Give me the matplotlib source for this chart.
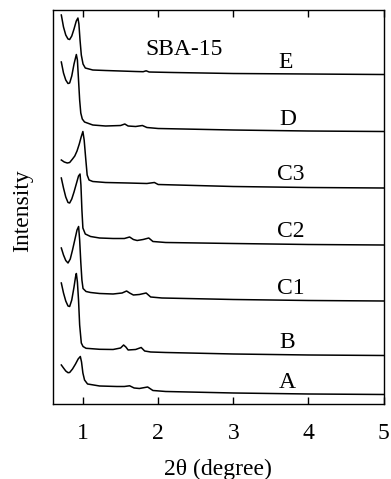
import matplotlib
matplotlib.use("Agg")
import matplotlib.pyplot as plt

plt.rcParams['font.family'] = ['Liberation Serif', 'DejaVu Serif']

# stacked XRD patterns, 2theta (degree) vs intensity (offset, a.u.)
x_E = [0.711, 0.74, 0.77, 0.80, 0.822, 0.85, 0.88, 0.91, 0.932, 0.945, 0.96, 0.977, 1.0, 1.03,
       1.13, 1.3, 1.5, 1.7, 1.8, 1.84, 1.88, 2.2, 3.0, 4.0, 5.0]
y_E = [389, 377, 369, 365, 364.5, 368, 375, 383, 386, 380, 364, 349, 340, 336,
       334, 333.5, 333, 332.5, 332.3, 333.2, 332, 331.5, 330.5, 330, 329.5]

x_D = [0.711, 0.74, 0.77, 0.80, 0.822, 0.85, 0.88, 0.911, 0.925, 0.94, 0.955, 0.97, 0.99, 1.02,
       1.13, 1.3, 1.5, 1.556, 1.6, 1.7, 1.79, 1.85, 2.0, 3.0, 4.0, 5.0]
y_D = [342, 331, 324, 320.5, 321, 328, 340, 349.5, 344, 324, 304, 291, 285, 282,
       279, 278, 278.5, 280, 278, 277.5, 278.5, 276.5, 275.5, 274, 273, 272.5]

x_C3 = [0.711, 0.75, 0.79, 0.822, 0.86, 0.89, 0.92, 0.95, 0.975, 0.998, 1.015, 1.035, 1.055,
        1.08, 1.13, 1.3, 1.6, 1.85, 1.95, 2.0, 2.5, 3.0, 4.0, 5.0]
y_C3 = [244, 242, 241, 241.5, 245, 248, 253, 260, 267, 272.5, 264, 246, 229,
        224, 222.5, 221.5, 221, 220.5, 221.5, 219.5, 218.5, 217.5, 216.5, 216]

x_C2 = [0.711, 0.74, 0.77, 0.80, 0.822, 0.85, 0.88, 0.91, 0.94, 0.96, 0.972, 0.985, 0.998,
        1.03, 1.1, 1.22, 1.4, 1.55, 1.62, 1.67, 1.72, 1.8, 1.875, 1.93, 2.1, 3.0, 4.0, 5.0]
y_C2 = [226, 216, 207, 201.5, 201, 205, 212, 220, 228, 230, 219, 194, 176,
        170, 167.5, 166, 165.5, 165.5, 167, 164.5, 163.5, 164.5, 166, 162.5, 161.5, 160.5, 159.5, 159]

x_C1 = [0.711, 0.74, 0.77, 0.80, 0.83, 0.86, 0.89, 0.92, 0.941, 0.955, 0.97, 0.985, 1.0,
        1.04, 1.1, 1.22, 1.4, 1.52, 1.58, 1.62, 1.67, 1.75, 1.84, 1.9, 2.05, 3.0, 4.0, 5.0]
y_C1 = [156, 149, 143.5, 141, 145, 154, 164, 174, 177.5, 164, 142, 124, 115.5,
        112.5, 111.5, 110.5, 110, 111, 113, 111, 109, 109.5, 111, 107, 106, 104.5, 103.5, 103]

x_B = [0.711, 0.74, 0.77, 0.80, 0.822, 0.85, 0.88, 0.90, 0.911, 0.925, 0.94, 0.955, 0.977, 1.0,
       1.04, 1.22, 1.4, 1.5, 1.54, 1.57, 1.6, 1.7, 1.774, 1.82, 1.9, 2.1, 3.0, 4.0, 5.0]
y_B = [121, 111, 103, 98, 97.5, 104, 117, 127, 130.5, 122, 104, 79, 61, 57.5,
       55.7, 54.7, 54.5, 56, 59, 57, 54, 54.5, 56.5, 53, 52, 51.5, 50, 49, 48.5]

x_A = [0.711, 0.74, 0.77, 0.80, 0.822, 0.86, 0.90, 0.935, 0.964, 0.98, 0.998, 1.02, 1.06,
       1.22, 1.45, 1.55, 1.62, 1.68, 1.75, 1.86, 1.93, 2.1, 3.0, 4.0, 5.0]
y_A = [39, 36, 33, 31.3, 31.5, 35, 40, 45, 47.5, 42, 31, 24, 20,
       18, 17.5, 17.5, 18.2, 16, 15.5, 17, 13.5, 12.5, 11, 10, 9.5]

curves = [(x_E, y_E), (x_D, y_D), (x_C3, y_C3), (x_C2, y_C2),
          (x_C1, y_C1), (x_B, y_B), (x_A, y_A)]

# sample labels and where they sit
labels = ['E', 'D', 'C3', 'C2', 'C1', 'B', 'A']
label_x = [3.70, 3.72, 3.77, 3.77, 3.77, 3.72, 3.72]
label_y = [342, 285, 230, 172.5, 115.5, 61.5, 21.5]

fig = plt.figure(figsize=(3.91, 4.79), dpi=100)
ax = fig.add_axes([0.1355, 0.1566, 0.8455, 0.8225])

for xs, ys in curves:
    ax.plot(xs, ys, color='black', lw=1.1)

for lab, lx, ly in zip(labels, label_x, label_y):
    ax.text(lx, ly, lab, ha='center', va='center', fontsize=17)

ax.text(2.345, 355, 'SBA-15', ha='center', va='center', fontsize=17)

ax.set_xlim(0.6, 5)
ax.set_ylim(0, 394)
ax.set_xticks([1, 2, 3, 4, 5])
ax.set_yticks([])
ax.tick_params(axis='x', direction='in', top=True, length=5, width=1,
               labelsize=17, pad=14)
for s in ax.spines.values():
    s.set_linewidth(1.0)

ax.set_xlabel('2θ (degree)', fontsize=17, labelpad=10)
ax.set_ylabel('Intensity', fontsize=17)
ax.yaxis.set_label_coords(-0.06, 0.49)

fig.savefig('out.png', dpi=100)
